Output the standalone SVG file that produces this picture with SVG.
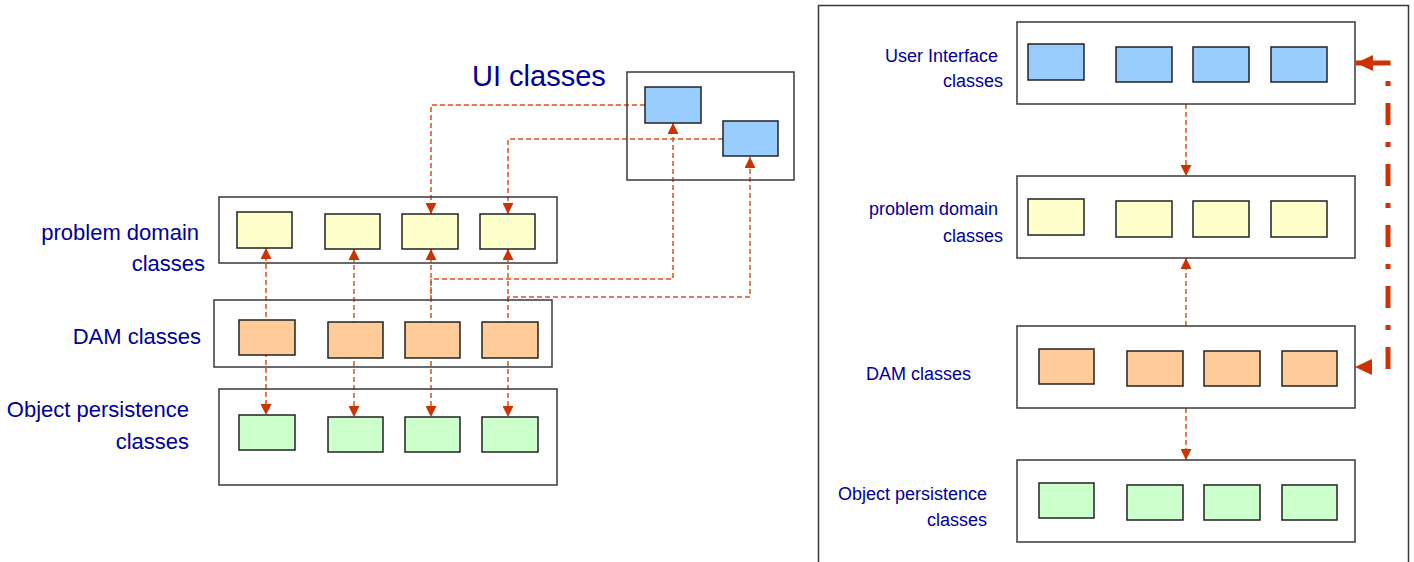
<svg xmlns="http://www.w3.org/2000/svg" width="1414" height="562" viewBox="0 0 1414 562">
<style>
.bg{fill:#ffffff}
.cont{fill:none;stroke:#3a3a3a;stroke-width:1.5}
.cls{stroke:#222;stroke-width:1.5}
.ui{fill:#99ccff}
.pd{fill:#ffffcc}
.dam{fill:#ffcc99}
.op{fill:#ccffcc}
.conn{fill:none;stroke:#d9531e;stroke-width:1.5;stroke-dasharray:5 3}
.big{fill:none;stroke:#cc3300;stroke-width:5}
.lbl{font-family:"Liberation Sans",Arial,Helvetica,sans-serif;fill:#000099}
.l22{font-size:22px}
.l18{font-size:18px}
</style>
<defs>
<marker id="arr" viewBox="0 0 10 10" refX="10" refY="5" markerUnits="userSpaceOnUse" markerWidth="11" markerHeight="11" orient="auto-start-reverse">
<path d="M0,0 L10,5 L0,10 Z" fill="#cc3300"/>
</marker>
<marker id="bigarr" viewBox="0 0 17 16" refX="17" refY="8" markerUnits="userSpaceOnUse" markerWidth="17" markerHeight="16" orient="auto">
<path d="M0,0 L17,8 L0,16 Z" fill="#cc3300"/>
</marker>
</defs>
<rect class="bg" x="0" y="0" width="1414" height="562"/>

<g id="connectors">
<path class="conn" d="M266,248 L266,415" marker-start="url(#arr)" marker-end="url(#arr)"/>
<path class="conn" d="M354,249 L354,417" marker-start="url(#arr)" marker-end="url(#arr)"/>
<path class="conn" d="M431,249 L431,417" marker-start="url(#arr)" marker-end="url(#arr)"/>
<path class="conn" d="M508,249 L508,417" marker-start="url(#arr)" marker-end="url(#arr)"/>
<path class="conn" d="M645,105 L431,105 L431,214" marker-end="url(#arr)"/>
<path class="conn" d="M723,139 L508,139 L508,214" marker-end="url(#arr)"/>
<path class="conn" d="M431,300 L431,279 L673,279 L673,123" marker-end="url(#arr)"/>
<path class="conn" d="M508,300 L508,297 L750,297 L750,157" marker-end="url(#arr)"/>
<path class="conn" d="M1186,104 L1186,176" marker-end="url(#arr)"/>
<path class="conn" d="M1186,326 L1186,258" marker-end="url(#arr)"/>
<path class="conn" d="M1186,408 L1186,460" marker-end="url(#arr)"/>
<path class="big" d="M1388,369 L1388,65" stroke-dasharray="22 17 5 17"/>
<path class="big" d="M1390.5,63 L1356,63" marker-end="url(#bigarr)"/>
<path d="M1355,367 L1372,359 L1372,375 Z" fill="#cc3300"/>
</g>

<g id="ui-left">
<rect class="cont" x="627" y="72" width="167" height="108"/>
<rect class="cls ui" x="645" y="87" width="56" height="36"/>
<rect class="cls ui" x="723" y="121" width="55" height="35"/>
<text class="lbl" x="472" y="86" font-size="29">UI classes</text>
</g>

<g id="pd-left">
<rect class="cont" x="219" y="197" width="338" height="66"/>
<rect class="cls pd" x="237" y="212" width="55" height="36"/>
<rect class="cls pd" x="325" y="214" width="55" height="35"/>
<rect class="cls pd" x="402" y="214" width="56" height="35"/>
<rect class="cls pd" x="480" y="214" width="55" height="35"/>
<text class="lbl l22" x="199" y="240" text-anchor="end">problem domain</text>
<text class="lbl l22" x="205" y="271" text-anchor="end">classes</text>
</g>

<g id="dam-left">
<rect class="cont" x="214" y="300" width="338" height="67"/>
<rect class="cls dam" x="239" y="320" width="56" height="35"/>
<rect class="cls dam" x="328" y="322" width="55" height="36"/>
<rect class="cls dam" x="405" y="322" width="55" height="36"/>
<rect class="cls dam" x="482" y="322" width="56" height="36"/>
<text class="lbl l22" x="201" y="344" text-anchor="end">DAM classes</text>
</g>

<g id="op-left">
<rect class="cont" x="219" y="389" width="338" height="96"/>
<rect class="cls op" x="239" y="415" width="56" height="35"/>
<rect class="cls op" x="328" y="417" width="55" height="35"/>
<rect class="cls op" x="405" y="417" width="55" height="35"/>
<rect class="cls op" x="482" y="417" width="56" height="35"/>
<text class="lbl l22" x="189" y="417" text-anchor="end">Object persistence</text>
<text class="lbl l22" x="189" y="449" text-anchor="end">classes</text>
</g>

<g id="frame-right">
<rect class="cont" x="818.5" y="5.5" width="590" height="600"/>
</g>

<g id="ui-right">
<rect class="cont" x="1017" y="22" width="338" height="82"/>
<rect class="cls ui" x="1028" y="44" width="56" height="36"/>
<rect class="cls ui" x="1116" y="47" width="56" height="35"/>
<rect class="cls ui" x="1193" y="47" width="56" height="35"/>
<rect class="cls ui" x="1271" y="47" width="56" height="35"/>
<text class="lbl l18" x="998" y="62" text-anchor="end">User Interface</text>
<text class="lbl l18" x="1003" y="87" text-anchor="end">classes</text>
</g>

<g id="pd-right">
<rect class="cont" x="1017" y="176" width="338" height="82"/>
<rect class="cls pd" x="1028" y="199" width="56" height="36"/>
<rect class="cls pd" x="1116" y="201" width="56" height="36"/>
<rect class="cls pd" x="1193" y="201" width="56" height="36"/>
<rect class="cls pd" x="1271" y="201" width="56" height="36"/>
<text class="lbl l18" x="998" y="215" text-anchor="end">problem domain</text>
<text class="lbl l18" x="1003" y="242" text-anchor="end">classes</text>
</g>

<g id="dam-right">
<rect class="cont" x="1017" y="326" width="338" height="82"/>
<rect class="cls dam" x="1039" y="349" width="55" height="35"/>
<rect class="cls dam" x="1127" y="351" width="56" height="35"/>
<rect class="cls dam" x="1204" y="351" width="56" height="35"/>
<rect class="cls dam" x="1282" y="351" width="55" height="35"/>
<text class="lbl l18" x="971" y="380" text-anchor="end">DAM classes</text>
</g>

<g id="op-right">
<rect class="cont" x="1017" y="460" width="338" height="82"/>
<rect class="cls op" x="1039" y="483" width="55" height="35"/>
<rect class="cls op" x="1127" y="485" width="56" height="35"/>
<rect class="cls op" x="1204" y="485" width="56" height="35"/>
<rect class="cls op" x="1282" y="485" width="55" height="35"/>
<text class="lbl l18" x="987" y="500" text-anchor="end">Object persistence</text>
<text class="lbl l18" x="987" y="526" text-anchor="end">classes</text>
</g>
</svg>
